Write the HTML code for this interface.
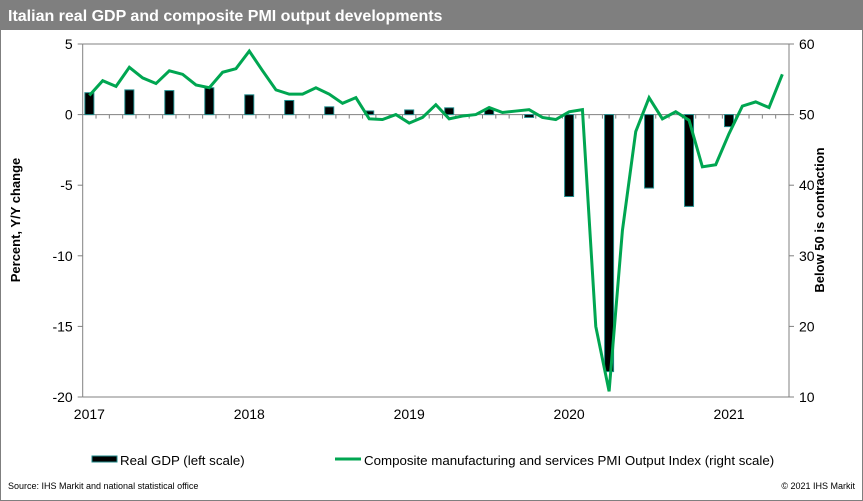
<!DOCTYPE html>
<html><head><meta charset="utf-8"><style>
body{margin:0;background:#fff;}
#wrap{position:relative;width:863px;height:501px;overflow:hidden;font-family:"Liberation Sans",Arial,sans-serif;}
</style></head><body>
<div id="wrap">
<svg id="chart" width="863" height="501" xmlns="http://www.w3.org/2000/svg" font-family="Liberation Sans, Arial, sans-serif">
<rect x="0.5" y="0.5" width="862" height="500" fill="#fff" stroke="#7f7f7f"/>
<rect x="0" y="0" width="863" height="30" fill="#7f7f7f"/>
<text x="8" y="21" fill="#fff" font-size="16" font-weight="bold">Italian real GDP and composite PMI output developments</text>
<g id="plot"></g>
<text transform="translate(20,220) rotate(-90)" text-anchor="middle" font-size="13" font-weight="bold">Percent, Y/Y change</text>
<text transform="translate(824,220) rotate(-90)" text-anchor="middle" font-size="13" font-weight="bold">Below 50 is contraction</text>
<g>
<g>
<rect x="92" y="456" width="25" height="6" fill="#000" stroke="#1f8a8a"/>
<text x="120" y="465" font-size="13.3">Real GDP (left scale)</text>
</g>
<g>
<line x1="335" y1="459" x2="361" y2="459" stroke="#00a651" stroke-width="3"/>
<text x="364" y="465" font-size="13.3">Composite manufacturing and services PMI Output Index (right scale)</text>
</g>
</g>
<text x="8" y="489" font-size="9">Source:  IHS Markit and national statistical office</text>
<text x="855" y="489" font-size="9" text-anchor="end">© 2021  IHS Markit</text>
</svg>
</div>
<script>
const years = ['2017','2018','2019','2020','2021'];
const leftTicks = [5,0,-5,-10,-15,-20];
const rightTicks = [60,50,40,30,20,10];
const gdpMonths = [0,3,6,9,12,15,18,21,24,27,30,33,36,39,42,45,48];
const gdpValues = [1.55,1.75,1.7,1.9,1.4,1.0,0.55,0.26,0.33,0.48,0.4,-0.2,-5.8,-18.2,-5.2,-6.5,-0.85];
const pmiValues = [52.7,54.8,54.0,56.7,55.2,54.4,56.2,55.7,54.2,53.8,56.0,56.5,59.0,56.2,53.5,52.9,52.9,53.8,52.9,51.6,52.4,49.4,49.3,50.0,48.8,49.6,51.4,49.4,49.8,50.0,51.0,50.3,50.5,50.7,49.6,49.3,50.4,50.7,20.0,10.8,33.6,47.6,52.4,49.4,50.4,49.2,42.6,42.9,47.3,51.2,51.8,51.0,55.7];

const NS='http://www.w3.org/2000/svg';
const X0=82.7, X1=789, Y0=44, Y1=397, N=53;
const cw=(X1-X0)/N;
const xc=i=>X0+(i+0.5)*cw;
const yL=v=>Y0+(5-v)/25*(Y1-Y0);
const yR=v=>Y0+(60-v)/50*(Y1-Y0);
const g=document.getElementById('plot');
function mk(t,a){const e=document.createElementNS(NS,t);for(const k in a)e.setAttribute(k,a[k]);g.appendChild(e);return e;}

let e;
e=mk('line',{x1:X0,y1:Y0,x2:X1,y2:Y0,stroke:'#808080','stroke-width':1});


e=mk('line',{x1:X0,y1:Y0,x2:X0,y2:Y1,stroke:'#808080','stroke-width':1});


e=mk('line',{x1:X1,y1:Y0,x2:X1,y2:Y1,stroke:'#808080','stroke-width':1});


e=mk('line',{x1:X0,y1:Y1,x2:X1,y2:Y1,stroke:'#808080','stroke-width':1});


e=mk('line',{x1:X0,y1:yL(0),x2:X1,y2:yL(0),stroke:'#808080','stroke-width':1});


for(let i=1;i<N;i++){
  const x=X0+i*cw;
  e=mk('line',{x1:x,y1:yL(0),x2:x,y2:yL(0)+4,stroke:'#808080'});
  
  
}
leftTicks.forEach(v=>{
  e=mk('line',{x1:X0-5,y1:yL(v),x2:X0,y2:yL(v),stroke:'#808080'});
  
  
  e=mk('text',{x:X0-10,y:yL(v)+5,'text-anchor':'end','font-size':14});
  e.textContent=v;
  
  
});
rightTicks.forEach(v=>{
  e=mk('line',{x1:X1,y1:yR(v),x2:X1+5,y2:yR(v),stroke:'#808080'});
  
  
  e=mk('text',{x:X1+10,y:yR(v)+5,'font-size':14});
  e.textContent=v;
  
  
});
years.forEach((y,i)=>{
  e=mk('text',{x:xc(i*12),y:419,'text-anchor':'middle','font-size':14});
  e.textContent=y;
  
  
});
gdpValues.forEach((v,i)=>{
  const x=xc(gdpMonths[i]), y0=yL(0), y=yL(v);
  e=mk('rect',{x:x-4.5,y:Math.min(y,y0),width:9,height:Math.abs(y-y0),fill:'#000',stroke:'#1f8a8a','stroke-width':1});
  
  
});
e=mk('polyline',{points:pmiValues.map((v,i)=>xc(i)+','+yR(v)).join(' '),fill:'none',stroke:'#00a651','stroke-width':3,'stroke-linejoin':'miter'});


</script>
</body></html>
